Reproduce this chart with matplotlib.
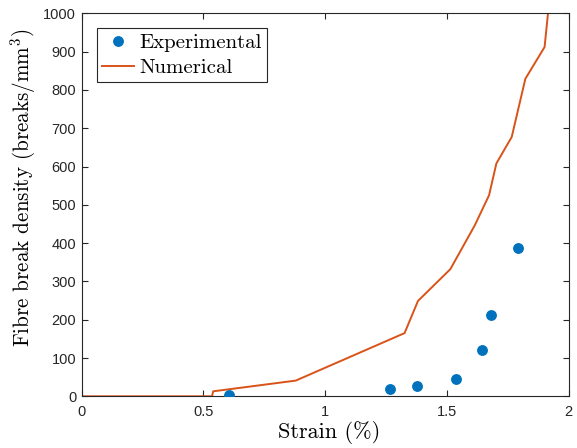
import matplotlib
matplotlib.use("Agg")
import matplotlib.pyplot as plt

plt.rcParams['mathtext.fontset'] = 'cm'
plt.rcParams['axes.unicode_minus'] = False

# experimental points
exp_strain = [0.605, 1.265, 1.377, 1.539, 1.645, 1.681, 1.793]
exp_density = [3, 20, 27, 44, 120, 211, 387]

# numerical curve
num_strain = [0.0, 0.535, 0.540, 0.879, 1.326, 1.381, 1.514, 1.614, 1.673, 1.703,
              1.766, 1.822, 1.901, 1.915, 1.93]
num_density = [0, 0, 13, 41, 165, 249, 332, 446, 525, 608, 677, 829, 912, 1000, 1100]

xticks = [0, 0.5, 1, 1.5, 2]
xticklabels = ['0', '0.5', '1', '1.5', '2']
yticks = list(range(0, 1001, 100))

fig = plt.figure(figsize=(5.77, 4.48), dpi=100)
ax = fig.add_axes([0.1416, 0.1154, 0.8440, 0.8549])

ax.plot(exp_strain, exp_density, 'o', color='#0072BD', markersize=6.8,
        label='Experimental', zorder=3)
ax.plot(num_strain, num_density, '-', color='#D95319', linewidth=1.4,
        label='Numerical')

ax.set_xlim(0, 2)
ax.set_ylim(0, 1000)
ax.set_xticks(xticks)
ax.set_xticklabels(xticklabels)
ax.set_yticks(yticks)

for lab in ax.get_xticklabels() + ax.get_yticklabels():
    lab.set_family('Liberation Sans')
    lab.set_fontsize(10.5)

ax.tick_params(direction='in', top=True, right=True, length=4, width=0.8,
               colors='#262626', labelcolor='#262626', pad=4)
ax.tick_params(axis='x', pad=6)
for s in ax.spines.values():
    s.set_color('#262626')
    s.set_linewidth(0.8)

ax.set_xlabel('Strain (%)', family='cmr10', fontsize=16)
ax.set_ylabel('Fibre break density (breaks/mm$^3$)', family='cmr10', fontsize=15.2)
ax.xaxis.set_label_coords(0.508, -0.065)
ax.yaxis.set_label_coords(-0.09, 0.545)

leg = ax.legend(loc='upper left', prop={'family': 'cmr10', 'size': 15},
                fancybox=False, edgecolor='#262626', framealpha=1,
                borderpad=0.25, labelspacing=0.3, handlelength=1.55,
                handletextpad=0.25, borderaxespad=0.72, numpoints=1)
leg.get_frame().set_linewidth(0.8)

fig.savefig('out.png', dpi=100)
